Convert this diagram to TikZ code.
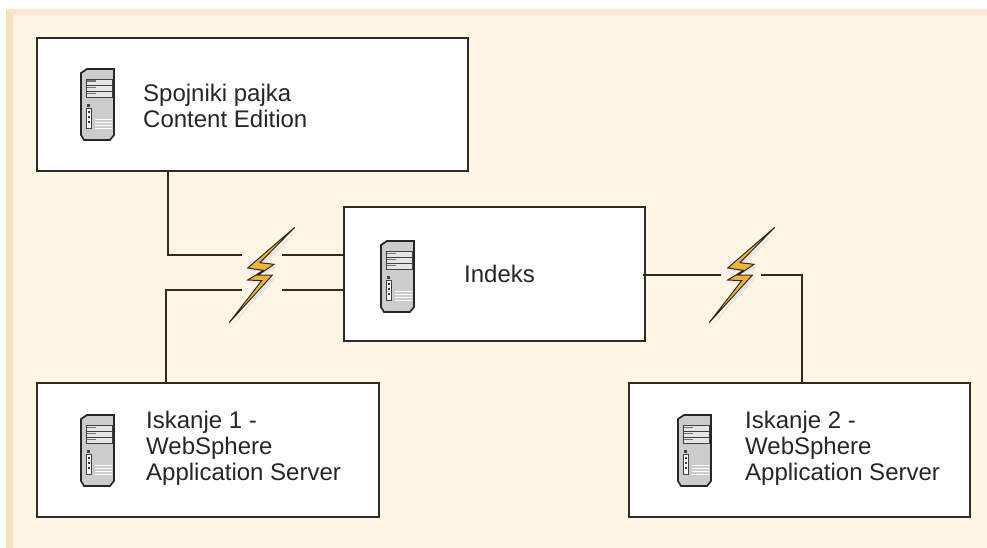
\documentclass[tikz,border=0pt]{standalone}
\usepackage{fontspec}
\setmainfont{Liberation Sans}
\usetikzlibrary{positioning}
\definecolor{panel}{HTML}{FFF5E3}
\definecolor{panelband}{HTML}{F5E8D2}
\definecolor{panelside}{HTML}{F6DFBC}
\definecolor{boltfill}{HTML}{F5B335}
\definecolor{boltshade}{HTML}{E3E6EA}
\definecolor{inkline}{HTML}{2E2A28}

\tikzset{
    x=1pt, y=-1pt,
    hostbox/.style={draw=inkline, line width=1.7pt, fill=white, minimum width=#1, inner sep=0pt, outer sep=0pt},
    hostlabel/.style={anchor=west, align=left, inner sep=0pt, font=\fontsize{24}{26}\selectfont, text=black!85},
    wire/.style={draw=inkline, line width=1.4pt},
    pics/towerpc/.style={code={
        \fill[black!20] (1,-4) -- (7,-8) -- (34,-8) -- (34,58) -- (30,63) -- (4,63) -- (1,58) -- cycle;
        \draw[black!85, line width=1.7pt] (1,-4) -- (7,-8) -- (34,-8) -- (34,58) -- (30,63) -- (4,63) -- (1,58) -- cycle;
        \foreach \slot in {2,8.2,14.4}{
            \draw[black!75, fill=black!10, line width=.8pt] (6,\slot) rectangle (32,\slot+6);
            \fill[black!55] (7,\slot+1.5) rectangle (16,\slot+3);
        }
        \draw[black!75, fill=white, line width=.7pt] (6,31) rectangle (11,51);
        \fill[black!75] (7,27) rectangle (10,30);
        \foreach \led in {34,39,44}{\fill[black!75] (7.5,\led) rectangle (9.5,\led+2);}
        \foreach \vent in {42,45,48,51}{\draw[white, line width=.9pt] (15,\vent) -- (32,\vent);}
    }},
    pics/flash/.style={code={
        % outline taken from the top tip
        \fill[boltshade, xshift=3pt, yshift=-3pt] (44.8,-47.7) -- (-2.3,-7) -- (13.3,-4.6) -- (-2.3,5) -- (11.7,5.7) -- (-20.9,47.7)
            -- (22.5,0) -- (8.3,0) -- (24,-10.7) -- (10,-12.3) -- cycle;
        \fill[boltfill, draw=inkline, line width=1pt] (44.8,-47.7) -- (-2.3,-7) -- (13.3,-4.6) -- (-2.3,5) -- (11.7,5.7) -- (-20.9,47.7)
            -- (22.5,0) -- (8.3,0) -- (24,-10.7) -- (10,-12.3) -- cycle;
    }}
}

\begin{document}
\begin{tikzpicture}
    \useasboundingbox (0,0) rectangle (987,548);
    \fill[white] (0,0) rectangle (987,548);
    % Panel
    \fill[panel] (6,9) rectangle (987,548);
    \fill[panelband] (6,9) -- (987,9) -- (987,15) -- (13,15) -- cycle;
    \fill[panelside] (6,9) -- (13,15) -- (13,548) -- (6,548) -- cycle;

    % Nodes
    \node[hostbox=431pt, minimum height=133pt, anchor=north west] (edition) at (37,38) {};
    \node[hostbox=301pt, minimum height=134pt, anchor=north west] (index) at (344,207) {};
    \node[hostbox=342pt, minimum height=134pt, anchor=north west] (searchone) at (37,383) {};
    \node[hostbox=341pt, minimum height=134pt, anchor=north west] (searchtwo) at (629,383) {};

    \node[hostlabel] (editionlabel) at (143,106) {Spojniki pajka\\Content Edition};
    \node[hostlabel] (indexlabel) at (464,274) {Indeks};
    \node[hostlabel] (searchonelabel) at (146,448) {Iskanje 1 -\\WebSphere\\Application Server};
    \node[hostlabel] (searchtwolabel) at (745,448) {Iskanje 2 -\\WebSphere\\Application Server};

    \pic at (80,77) {towerpc};
    \pic at (380,249) {towerpc};
    \pic at (80,423) {towerpc};
    \pic at (677,423) {towerpc};

    \pic at (250,275) {flash};
    \pic at (730,275) {flash};

    \coordinate (leftup) at (242,255);
    \coordinate (leftdown) at (242,290);
    \coordinate (midup) at (282,255);
    \coordinate (middown) at (282,290);
    \coordinate (rightin) at (721,275);
    \coordinate (rightout) at (761,275);

    % Connectors
    \draw[wire] (edition.south -| 168,0) |- (leftup);
    \draw[wire] (searchone.north -| 166,0) |- (leftdown);
    \draw[wire] (midup) -- (midup -| index.west);
    \draw[wire] (middown) -- (middown -| index.west);
    \draw[wire, shorten >=-2pt] (rightin) -- (rightin -| index.east);
    \draw[wire] (searchtwo.north -| 802,0) |- (rightout);
\end{tikzpicture}
\end{document}
